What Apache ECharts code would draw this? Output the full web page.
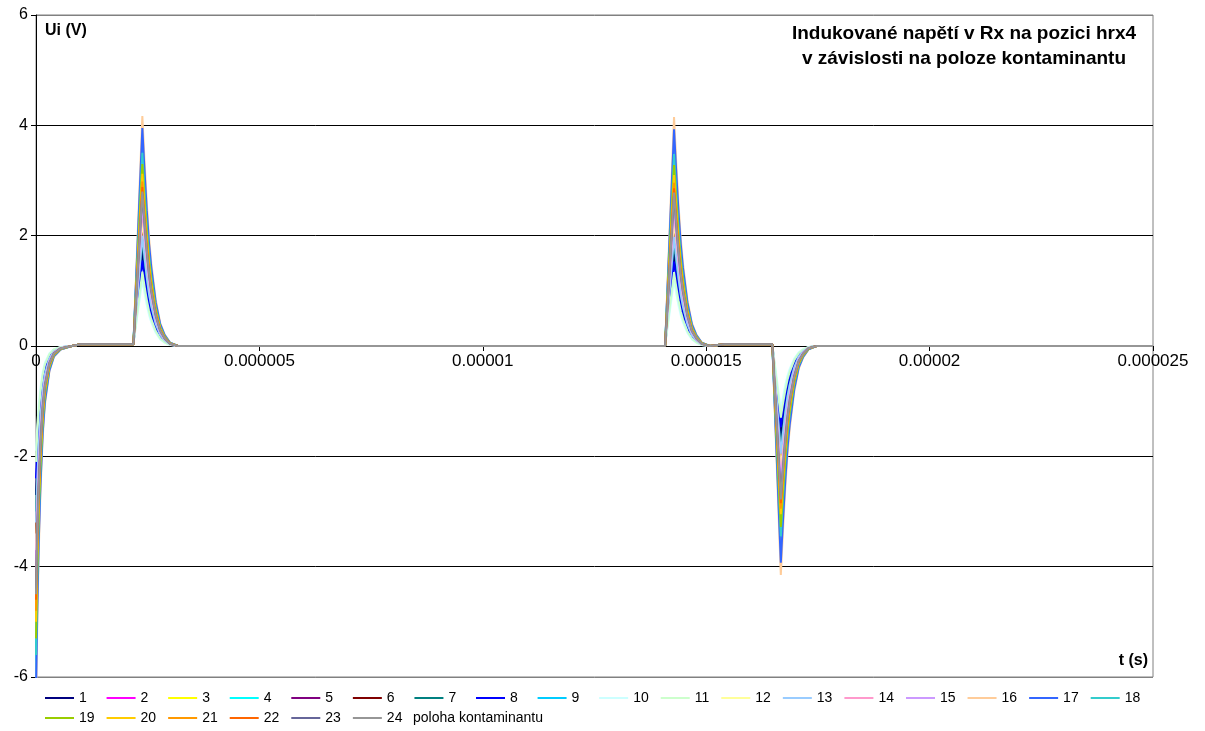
<!DOCTYPE html>
<html>
<head>
<meta charset="utf-8">
<title>Indukované napětí v Rx na pozici hrx4</title>
<script src="https://cdn.jsdelivr.net/npm/echarts@6/dist/echarts.min.js"></script>
<style>
  html, body { margin: 0; padding: 0; background: #fff; }
  #chart { width: 1205px; height: 731px; }
</style>
</head>
<body>
<div id="chart"></div>
<script>
// ---- data ----------------------------------------------------------------
const seriesNames = ['1','2','3','4','5','6','7','8','9','10','11','12',
                     '13','14','15','16','17','18','19','20','21','22','23','24'];
const extraName = 'poloha kontaminantu';

const lineColors = ['#000080','#FF00FF','#FFFF00','#00FFFF','#800080','#800000',
                    '#008080','#0000FF','#00CCFF','#CCFFFF','#CCFFCC','#FFFF99',
                    '#99CCFF','#FF99CC','#CC99FF','#FFCC99','#3366FF','#33CCCC',
                    '#99CC00','#FFCC00','#FF9900','#FF6600','#666699','#969696'];

const timeTicks = ['0','0.000005','0.00001','0.000015','0.00002','0.000025'];
const yTicks = ['-6','-4','-2','0','2','4','6'];

// voltage at t = 0 (V), per series
const startDip   = [-2.7,-4.1,-4.9,-5.7,-3.9,-3.4,-3.0,-2.4,-6.0,-1.9,-2.1,-3.7,
                    -3.2,-4.0,-4.1,-6.6,-6.3,-5.6,-5.3,-5.0,-4.8,-4.6,-4.4,-4.5];
// positive pulse at 2.38 us (V)
const firstPeak  = [1.70,2.60,3.10,3.60,2.45,2.15,1.90,1.55,3.75,1.20,1.35,2.30,
                    2.00,2.50,2.60,4.17,3.95,3.50,3.30,3.12,2.98,2.88,2.75,2.80];
// positive pulse at 14.28 us (V)
const secondPeak = [1.68,2.58,3.08,3.58,2.43,2.13,1.88,1.53,3.73,1.19,1.34,2.28,
                    1.98,2.48,2.58,4.15,3.93,3.48,3.28,3.10,2.96,2.86,2.73,2.78];
// negative pulse at 16.67 us (V)
const trough     = [-1.65,-2.55,-3.05,-3.55,-2.40,-2.12,-1.85,-1.47,-3.70,-1.15,-1.30,-2.25,
                    -1.95,-2.45,-2.55,-4.15,-3.93,-3.45,-3.28,-3.05,-2.95,-2.85,-2.72,-2.78];

// relative settling of the initial dip, time after t = 0 (us)
const dipOffsetUs  = [0, 0.03, 0.06, 0.10, 0.15, 0.20, 0.30, 0.40, 0.55, 0.80];
const dipShape     = [1, 0.75, 0.57, 0.40, 0.25, 0.16, 0.07, 0.03, 0.01, 0.00];
// relative decay of each pulse, time after its extreme (us)
const pulseOffsetUs = [0, 0.05, 0.10, 0.15, 0.20, 0.30, 0.40, 0.50, 0.62, 0.80];
const pulseShape    = [1, 0.80, 0.62, 0.47, 0.36, 0.20, 0.10, 0.05, 0.015, 0.00];

// event instants (us)
const pulseStartUs = [2.18, 14.08, 16.48];
const pulseApexUs  = [2.38, 14.28, 16.67];
const plateauLevel = 0.03;
const endUs = 25;

// ---- build series ----------------------------------------------------------
const US = 1e-6;
function segment(t0, offsets, shape, amp) {
  return offsets.map((d, i) => [(t0 + d) * US, amp * shape[i]]);
}
function waveform(k) {
  const pts = [];
  pts.push(...segment(0, dipOffsetUs, dipShape, startDip[k]));
  pts.push([1.0 * US, plateauLevel]);
  pts.push([pulseStartUs[0] * US, plateauLevel]);
  pts.push(...segment(pulseApexUs[0], pulseOffsetUs, pulseShape, firstPeak[k]));
  pts.push([pulseStartUs[1] * US, 0]);
  pts.push(...segment(pulseApexUs[1], pulseOffsetUs, pulseShape, secondPeak[k]));
  pts.push([15.4 * US, plateauLevel]);
  pts.push([pulseStartUs[2] * US, plateauLevel]);
  pts.push(...segment(pulseApexUs[2], pulseOffsetUs, pulseShape, trough[k]));
  pts.push([endUs * US, 0]);
  return pts;
}

const FONT = '"Liberation Sans", Arial, sans-serif';

const series = seriesNames.map((name, k) => ({
  name: name,
  type: 'line',
  data: waveform(k),
  symbol: 'none',
  showSymbol: false,
  clip: true,
  lineStyle: { color: lineColors[k], width: 2 },
  itemStyle: { color: lineColors[k] },
  emphasis: { disabled: true },
  z: 2
}));
series.push({ name: extraName, type: 'line', data: [], symbol: 'none',
              lineStyle: { width: 0, opacity: 0 }, itemStyle: { color: '#ffffff' } });

// single-digit names are padded with a figure space so every slot is equally wide
const legendCommon = {
  orient: 'horizontal',
  padding: 0,
  itemWidth: 29,
  itemHeight: 2,
  itemGap: 12,
  icon: 'rect',
  selectedMode: false,
  formatter: (name) => name.length === 1 ? name + '\u2007' : name,
  textStyle: { fontFamily: FONT, fontSize: 14, color: '#000' }
};

const chart = echarts.init(document.getElementById('chart'), null, { renderer: 'canvas' });
chart.setOption({
  animation: false,
  backgroundColor: '#ffffff',
  grid: { left: 36, right: 52, top: 15, bottom: 54, show: true,
          borderColor: '#808080', borderWidth: 1, backgroundColor: 'transparent' },
  xAxis: {
    type: 'value', min: 0, max: 25 * US, interval: 5 * US,
    position: 'bottom',
    offset: -331,
    axisLine: { show: true, onZero: false, lineStyle: { color: '#000', width: 1 } },
    axisTick: { show: true, length: 5, lineStyle: { color: '#000' } },
    axisLabel: { fontFamily: FONT, fontSize: 17, color: '#000', margin: 7,
                 formatter: (v) => timeTicks[Math.round(v / (5 * US))] },
    splitLine: { show: false }
  },
  yAxis: {
    type: 'value', min: -6, max: 6, interval: 2,
    axisLine: { show: true, onZero: false, lineStyle: { color: '#000', width: 1 } },
    axisTick: { show: true, length: 5, lineStyle: { color: '#000' } },
    axisLabel: { fontFamily: FONT, fontSize: 16, color: '#000', margin: 8,
                 formatter: (v) => yTicks[Math.round((v + 6) / 2)] },
    splitLine: { show: true, lineStyle: { color: ['#808080','#000','#000','#000','#000','#000','#808080'], width: 1 } }
  },
  legend: [
    Object.assign({}, legendCommon, { left: 45, top: 691, data: seriesNames.slice(0, 18) }),
    Object.assign({}, legendCommon, { left: 45, top: 711, data: seriesNames.slice(18) }),
    {
      left: 408, top: 711, padding: 0, itemWidth: 0, itemHeight: 2, selectedMode: false,
      textStyle: { fontFamily: FONT, fontSize: 14, color: '#000' },
      data: [{ name: extraName, icon: 'none' }]
    }
  ],
  graphic: [
    { type: 'text', left: 45, top: 23,
      style: { text: 'Ui (V)', font: 'bold 16px ' + FONT, fill: '#000' } },
    { type: 'text', right: 57, top: 653,
      style: { text: 't (s)', font: 'bold 16px ' + FONT, fill: '#000' } },
    { type: 'text', x: 964, y: 21,
      style: { text: 'Indukované napětí v Rx na pozici hrx4\nv závislosti na poloze kontaminantu',
               font: 'bold 19px ' + FONT, fill: '#000', align: 'center', lineHeight: 25 } }
  ],
  series: series
});
</script>
</body>
</html>
